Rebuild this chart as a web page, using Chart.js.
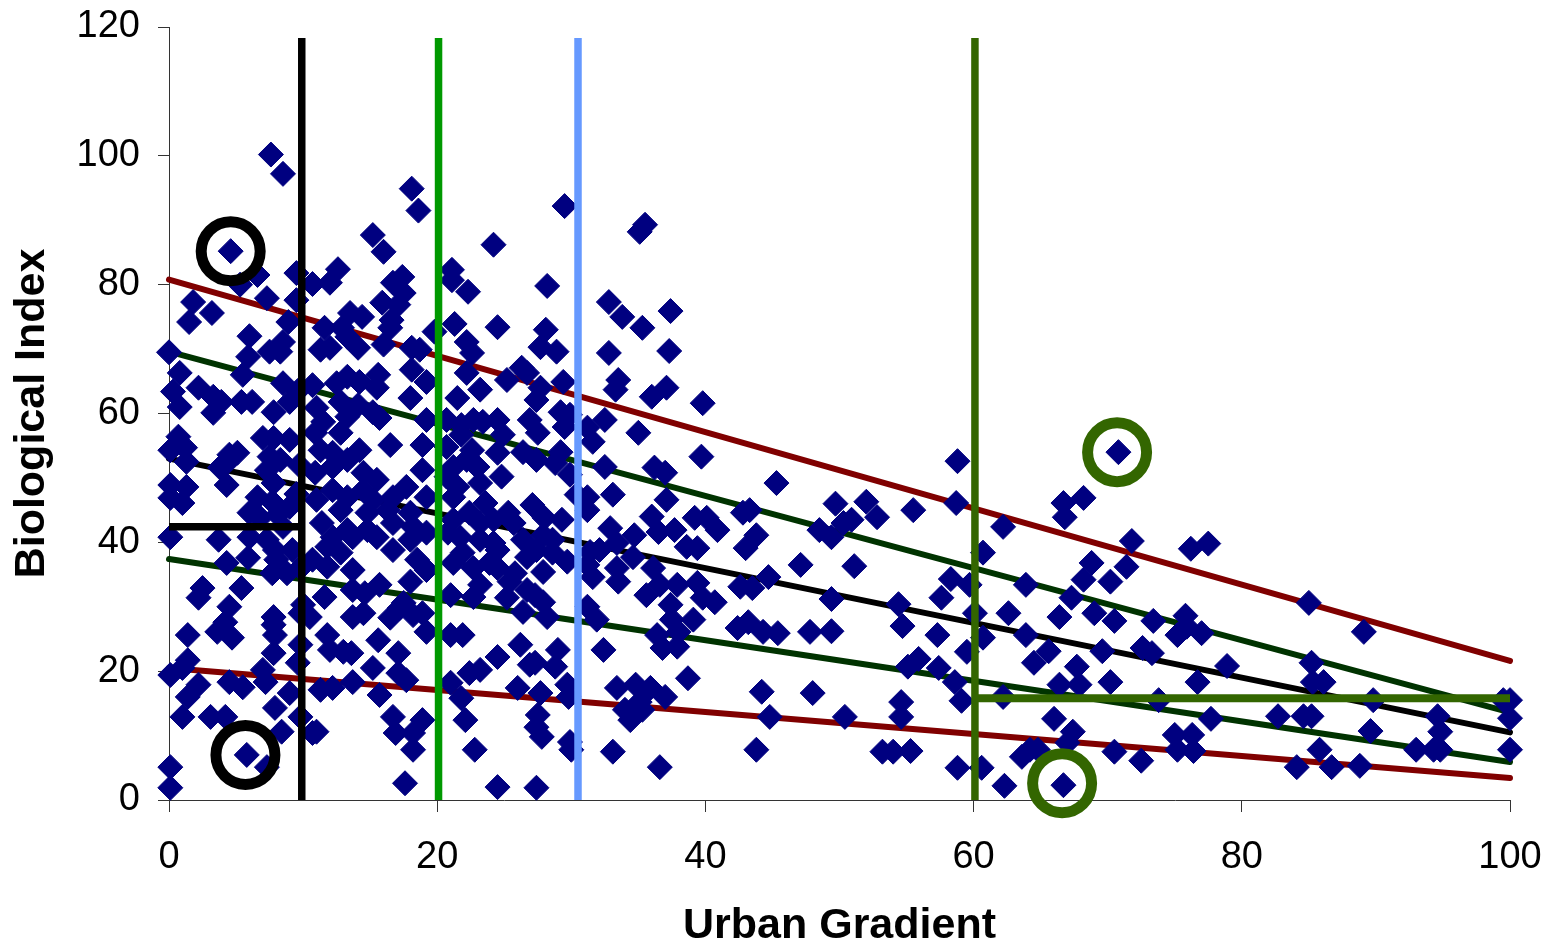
<!DOCTYPE html>
<html>
<head>
<meta charset="utf-8">
<script src="https://cdn.jsdelivr.net/npm/chart.js@4.4.0/dist/chart.umd.min.js"></script>
<style>
  html, body { margin: 0; padding: 0; background: #fff; }
  #contenedor { width: 1553px; height: 942px; position: relative; }
</style>
</head>
<body>
<div id="contenedor"><canvas id="grafica"></canvas></div>
<script>
// valores: gradiente urbano (x) e indice biologico (y)
const urbanGradient = [
  7.6, 8.5, 4.6, 6.6, 5.3, 9.5, 1.8, 3.2, 1.5, 7.3,
  9.5, 8.9, 6, 8.5, 0, 5.9, 7.5, 8.3,
  0.8, 5.5, 8.5, 0.3, 2.2, 3.3, 3.9, 5.4, 6.2, 0.8,
  3.3, 7.8, 9, 0.7, 7, 7.8, 9, 0.1, 1.2, 1.3,
  4.5, 5.1, 3.8, 4.3, 7.5, 8.3, 7.3, 4.3, 7.8, 0.1,
  1.3, 0.1, 1, 6.6, 7.7, 6, 6.8, 8.1, 9, 8.5,
  0.1, 3.7, 6, 7.3, 7.9, 4.3, 5.9, 8, 9.2, 7.7,
  8.8, 9.6, 9.7, 9.5, 9.8,
  2.5, 2.2, 5.4, 4.5, 4.2, 3.6, 4.7, 1.4, 7.8, 7.8,
  7.9, 7.8, 9.8, 9.8, 9.6, 1.4, 0.1, 1, 7, 7.2,
  4.5, 5.5, 2.2, 1.4, 9, 7.9, 1, 3.1, 4.2, 9.8,
  8.4, 5.8, 7.3, 0.1, 0.1,
  18.1, 18.6, 15.2, 16, 10.7, 12, 12.6, 11.6, 12.9, 13.5,
  14.4, 13.3, 14.1, 16, 15.9, 16.7, 17.4, 17.5, 17.1, 16.6,
  16.5, 18.1, 18.7, 19.8, 11.3, 12,
  10.7, 12.5, 13.3, 14.2, 15.6, 15.5, 18.1, 19.2, 18, 11,
  12.8, 14.1, 15.2, 13.3, 11.5, 15.7, 19.2, 10.9, 12.8, 16.5,
  18.9, 11.3, 12.2, 14.2, 10.9, 12.2, 13.3, 14.5, 15.5, 17.7,
  18.9, 11, 12.2, 13.3, 14.5, 15.2, 16.7, 19.2, 12.8, 14.8,
  16.3, 18, 11.4, 13.3, 14.8, 16.7, 18.2, 12.2, 13.7, 15.5,
  18, 19.2, 11.8, 12.8, 16.7, 18.5, 19.2, 10.7, 11.8, 13.7,
  10.5, 10.7, 11, 11.6, 10, 11.8, 12, 13, 13.6, 13.7,
  14.5, 15.6, 17.1, 15.2, 16.5, 17.2, 18.2, 19.2, 17.1, 17.7,
  11.3, 12.2, 13.7, 15.7, 16.7, 16.9, 18.2, 18.2, 18.9, 17.6,
  13.7, 15.7, 14.6, 18, 17.5, 18.9,
  21.1, 21.1, 22.3, 21.3, 22.2, 22.6, 24.5, 24.2, 22.2, 23.2,
  21.5, 20.7, 21.8, 22.7, 23.4, 21.8, 20.7, 22.6, 21.2, 22.2,
  23, 20.7, 21.5, 23.2, 21.2, 23.6, 22.4, 21.2, 23.2, 24.2,
  20.8, 21.7, 23.2, 24.2, 21.9, 21.2, 22.7, 23.9, 21, 22.7,
  23.2, 21, 21.9, 24.5, 22.4, 23.2, 21, 21.8, 22.1, 22.8,
  24.5,
  29.5, 35.5, 35.1, 28.2, 32.8, 33.8, 37.4, 35.3, 28.1, 27.7,
  28.9, 32.8, 37.3, 25.2, 26.3, 26.7, 27.7, 29.4, 33.5, 33.3,
  36, 37.1, 39.8, 27.4, 24.5, 26.9, 29.2, 29.9, 31.2, 32.5,
  27.5, 29.5, 35, 24.9, 31.6, 26.4, 27.4, 28.8, 29.2, 24.5,
  24.8, 29.9, 32.5, 36.2, 37, 39.7, 45.3, 27.1, 30.4, 31.2,
  33.1, 37.1, 31.2, 25.3, 25.7, 28, 29.3, 36, 39.2, 40.1,
  40.9, 42.8, 43.3, 48.5, 32.9, 34.7, 36.5, 37.7, 43.8, 24.5,
  26.4, 27.9, 28.6, 27.4, 28.6, 26.7, 29.7, 31.4, 32.1, 33.4,
  34.6, 38.6, 39.4, 43, 47.1, 24.5, 25.8, 27.9, 31.2, 31.6,
  33.4, 36.1, 44.7,
  25.4, 26.7, 25.2, 26.4, 28.2, 27.9, 27.3, 31.2, 31.9, 33.5,
  35.6, 36.6, 37.9, 39.4, 39.8, 40.7, 37.4, 37.5, 39.1, 42.6,
  43.5, 42.4, 43.2, 44.3, 45.4, 47.8, 36.4, 36.8, 37.9, 38,
  26.2, 26.9, 27.3, 28.8, 29, 32.4, 26, 27.7, 29.7, 29.8,
  33.4, 34.8, 35.9, 37, 38.7, 35.1, 34, 35.3, 34.4, 44.2,
  48, 44.8, 27.5, 27.4, 27.8, 29.9, 30, 33.1, 36.6, 43.8,
  27.4,
  58.8, 70.8, 49.7, 52, 52.8, 50.3, 50.9, 55.5, 58.7, 66.7,
  68.2, 66.8, 62.2, 49.4, 60.7, 71.8, 68.8, 71.4, 68.2, 70.2,
  51.1, 58.3, 59.7, 63.9, 67.3, 49.4, 57.6, 54.4, 60.1, 62.6,
  66.4, 69, 70.5, 73.4, 54.7, 49.4, 57.3, 60.7, 63.9, 59.5,
  65.6, 69.6, 72.6, 73.3, 55.9, 55.1, 57.4, 64.5, 67.7, 58.6,
  66.4, 67.9, 70.2, 59.1, 62.2, 73.8, 54.6, 54.6, 50.4, 66,
  67.4, 67, 64.8, 64.2, 63.6, 70.5, 72.5, 53.2, 54, 55.3,
  58.8, 60.6, 62.3, 66.7,
  76.2, 77.5, 85, 89.1, 75.8, 75.2, 75.9, 77, 85.2, 78.9,
  76.7, 85.3, 86.1, 89.8, 99.5, 100, 100, 94.6, 94.8, 89.6,
  82.7, 84.6, 85.2, 77.7, 75, 76.3, 75.2, 76.4, 85.8, 84.1,
  86.7, 88.8, 93, 94.3, 94.8, 100
];
const biologicalIndex = [
  100.2, 97.2, 85.2, 81.5, 80, 81.8, 77.3, 75.6, 74.2, 77.9,
  77.6, 74.2, 72, 71.1, 69.5, 68.8, 69.6, 69.6,
  66.3, 66, 64.7, 63.4, 64, 62.6, 61.8, 61.8, 61.8, 61,
  60.1, 60.2, 61.8, 56.4, 56.2, 56.2, 55.9, 54.3, 54.7, 52.5,
  53.6, 53.9, 51.6, 52.3, 53.3, 52.8, 51.2, 48.9, 49.2, 48.9,
  48.6, 46.9, 46.1, 47, 46.3, 44.6, 43.8, 44.3, 45.5, 42.4,
  40.8, 40.4, 40.8, 40.4, 38.8, 36.8, 37.6, 37.3, 38.8, 35.2,
  35.2, 63.5, 52, 47.5, 36,
  32.9, 31.4, 32.9, 30, 27.6, 26.1, 25.2, 25.6, 28.4, 27.2,
  25.6, 22.8, 29, 24.1, 21.3, 21.7, 19.4, 20.5, 20.2, 18.3,
  18.3, 17.5, 17.9, 16, 16.6, 14.3, 12.9, 12.9, 12.9, 12.9,
  10.6, 7, 5.1, 5.1, 1.9,
  94.9, 91.5, 87.7, 85.1, 80.1, 80.3, 82.4, 73.3, 73.3, 75.6,
  75, 71.9, 70.2, 70.7, 77.2, 80.3, 81.2, 78.7, 76.9, 74.5,
  73.3, 70.2, 69.9, 72.7, 69.9, 70.2,
  64.4, 64.7, 65.7, 64.9, 66, 64, 66.8, 64.9, 62.4, 60.9,
  61.8, 61.3, 60.2, 59.5, 58.7, 59.3, 59, 57, 57, 55.1,
  55.1, 54.3, 53.9, 54.3, 50.8, 51.7, 52.8, 50.8, 49.7, 48.6,
  51.2, 46.6, 48.1, 47, 48.1, 46.6, 47, 47, 45, 44.6,
  45, 44.6, 43, 41.9, 41.9, 43, 42.4, 40.8, 40.8, 40.8,
  40.4, 41.5, 39.3, 38.4, 38.8, 37.3, 35.7, 37.3, 36.2, 35.7,
  28.4, 10.4, 10.6, 31.5, 30.3, 25.6, 23.3, 23, 22.8, 28.4,
  29, 24.8, 22.8, 20.5, 28.3, 29.8, 28.7, 26.1, 19.7, 18.6,
  17.1, 17.4, 18.3, 16.3, 12.9, 10.4, 10.4, 7.8, 12.4, 2.6,
  32.6, 33.4, 32.1, 33.9, 30.6, 29,
  82.3, 80.7, 78.9, 73.9, 71.1, 69.4, 73.4, 86.2, 66.3, 63.7,
  62.4, 59, 58.2, 59, 58.7, 56.7, 54.8, 54.3, 51.7, 52.8,
  51.7, 50.2, 48.6, 49.2, 47, 46.1, 44.6, 43.5, 43, 43.5,
  41.5, 40.8, 40.4, 39.9, 38.4, 36.8, 36, 36.8, 31.8, 31.5,
  33.4, 25.6, 25.6, 22.2, 19.7, 20.2, 18.2, 15.8, 12.4, 7.8,
  2,
  92.2, 89.3, 88.2, 79.8, 77.3, 75, 75.9, 73.3, 73, 70.3,
  69.6, 69.4, 69.7, 65.2, 67.1, 66.3, 64, 64.9, 65.2, 63.7,
  62.6, 64, 61.6, 62.1, 59, 59, 60.2, 59.8, 57.8, 59,
  57, 57.9, 57, 56.7, 55.6, 54, 52.8, 52.3, 54, 53.9,
  50.2, 50.5, 51.7, 51.6, 50.8, 53.3, 49.2, 45.8, 47.4, 47,
  47.4, 46.6, 45, 44.6, 43, 43.8, 43.5, 44, 43.8, 43.8,
  41.9, 44.6, 45, 41.9, 42.2, 41.1, 41.6, 41.9, 41.1, 38.8,
  40.4, 41.1, 40.4, 38.8, 38.4, 37.7, 37, 38.5, 38.8, 39.9,
  37.7, 39.3, 39.1, 39.1, 36.5, 36, 35.2, 35.4, 36.5, 34.6,
  36, 36, 34.6,
  33.9, 32.6, 31.4, 29.2, 28.4, 30.7, 31.8, 30, 28, 33.9,
  31.8, 33.4, 33.4, 33.7, 31.4, 30.7, 30.3, 28, 28, 33.1,
  32.9, 26.7, 27.6, 26.1, 25.9, 26.1, 25.6, 23.6, 23.8, 26.1,
  24.1, 21, 21.3, 20.7, 23.3, 23.3, 17.4, 16.6, 17.9, 16,
  17.4, 17.9, 17.4, 16, 18.9, 15.2, 14, 14, 12.4, 16.8,
  16.6, 12.9, 13.2, 11.3, 9.8, 9, 7.8, 7.5, 5.1, 7.8,
  1.9,
  52.6, 54, 46, 46.3, 43.9, 43, 43.5, 45, 46.1, 46.1,
  46.9, 43.9, 42.4, 40.8, 38.4, 40.2, 36.8, 36.2, 34.2, 33.9,
  36.3, 34.3, 33.4, 33.4, 31.4, 31.2, 31.4, 30.4, 29, 29,
  28.4, 29, 27.8, 27.8, 27, 26.2, 25.6, 25.2, 25.6, 23,
  23.1, 23.1, 23.6, 22.8, 21.9, 20.7, 20.5, 21.3, 20.7, 18.3,
  17.9, 17.9, 18.3, 15.4, 16, 15.5, 15.2, 12.9, 12.9, 12.6,
  10.6, 8.9, 7.8, 7.8, 6.7, 7.5, 6.1, 7.5, 7.5, 7.6,
  5, 5, 2.2, 2.3,
  39, 39.8, 30.6, 26.1, 28.6, 25.6, 26.9, 25.9, 21.3, 20.8,
  18.3, 18.3, 18.3, 15.5, 15.5, 15.5, 12.7, 13, 10.6, 10.7,
  13, 13, 13, 12.6, 10.1, 10.1, 7.8, 7.6, 7.8, 5.1,
  5.1, 5.3, 7.8, 7.8, 7.8, 7.8
];

// rectas de tendencia: valor en x = 0 y en x = 100
const trendStart = [80.8, 69.6, 53.0, 37.4, 20.5];
const trendEnd = [21.6, 13.6, 10.5, 5.9, 3.4];

// cortes verticales del gradiente urbano
const cortes = [9.9, 20.1, 30.5, 60.1];
const corteTope = 118.3;
// niveles horizontales (antes del primer corte y despues del ultimo)
const nivelBajo = 42.4;
const nivelAlto = 15.8;

// puntos marcados con circulo
const marcadosX = [4.6, 5.7, 70.7, 66.6];
const marcadosY = [85.2, 7.0, 54.0, 2.6];

const xTicks = [0, 20, 40, 60, 80, 100];
const yTicks = [0, 20, 40, 60, 80, 100, 120];

const coloresTendencia = ['#800000', '#003300', '#000000', '#003300', '#800000'];
const coloresCortes = ['#000000', '#009900', '#6699ff', '#336600'];
const coloresMarcados = ['#000000', '#000000', '#336600', '#336600'];

const datasets = [];

// cortes verticales (por encima de los puntos)
cortes.forEach((c, i) => {
    datasets.push({
        data: [{ x: c, y: 0 }, { x: c, y: corteTope }],
        showLine: true,
        borderColor: coloresCortes[i],
        borderWidth: 7.5,
        borderCapStyle: 'butt',
        pointRadius: 0,
        clip: false,
        order: 1
    });
});

datasets.push({
    data: [{ x: 0, y: nivelBajo }, { x: cortes[0], y: nivelBajo }],
    showLine: true,
    borderColor: '#000000',
    borderWidth: 7.5,
    borderCapStyle: 'butt',
    pointRadius: 0,
    clip: false,
    order: 1
});

datasets.push({
    data: [{ x: cortes[3], y: nivelAlto }, { x: 100, y: nivelAlto }],
    showLine: true,
    borderColor: '#336600',
    borderWidth: 8,
    borderCapStyle: 'butt',
    pointRadius: 0,
    clip: false,
    order: 1
});

// circulos
marcadosX.forEach((x, i) => {
    datasets.push({
        data: [{ x: x, y: marcadosY[i] }],
        pointStyle: 'circle',
        pointRadius: 29.5,
        pointBorderWidth: 11,
        pointBorderColor: coloresMarcados[i],
        pointBackgroundColor: 'rgba(0,0,0,0)',
        clip: false,
        order: 0
    });
});

// puntos
datasets.push({
    data: urbanGradient.map((x, i) => ({ x: x, y: biologicalIndex[i] })),
    pointStyle: 'rectRot',
    pointRadius: 12.5,
    pointBorderWidth: 1,
    pointBackgroundColor: '#000080',
    pointBorderColor: '#000080',
    clip: false,
    order: 2
});

// rectas de tendencia (debajo de los puntos)
trendStart.forEach((v, i) => {
    datasets.push({
        data: [{ x: 0, y: v }, { x: 100, y: trendEnd[i] }],
        showLine: true,
        borderColor: coloresTendencia[i],
        borderWidth: 6,
        borderCapStyle: 'round',
        pointRadius: 0,
        clip: false,
        order: 3
    });
});

const ctx = document.getElementById('grafica');

const grafica = new Chart(ctx, {
    type: 'scatter',
    data: { datasets: datasets },
    options: {
        responsive: true,
        maintainAspectRatio: false,
        animation: false,
        events: [],
        layout: { autoPadding: false, padding: { left: 0, top: 27, right: 43, bottom: 0 } },
        plugins: {
            legend: { display: false },
            tooltip: { enabled: false }
        },
        scales: {
            x: {
                type: 'linear',
                min: 0,
                max: 100,
                afterBuildTicks: s => { s.ticks = xTicks.map(v => ({ value: v })); },
                afterFit: s => { s.height = 142; s.paddingLeft = 0; s.paddingRight = 0; },
                grid: { drawOnChartArea: false, drawTicks: true, tickLength: 12, color: '#333', lineWidth: 1 },
                border: { display: true, color: '#333', width: 1 },
                ticks: {
                    padding: 23,
                    color: '#000',
                    maxRotation: 0,
                    font: { family: 'Liberation Sans, Arial, sans-serif', size: 38 }
                },
                title: {
                    display: true,
                    text: 'Urban Gradient',
                    color: '#000',
                    padding: { top: 0, bottom: 0 },
                    font: { family: 'Liberation Sans, Arial, sans-serif', size: 43, weight: 'bold', lineHeight: 0.75 }
                }
            },
            y: {
                type: 'linear',
                min: 0,
                max: 120,
                afterBuildTicks: s => { s.ticks = yTicks.map(v => ({ value: v })); },
                afterFit: s => { s.width = 169; s.paddingTop = 0; s.paddingBottom = 0; },
                grid: { drawOnChartArea: false, drawTicks: true, tickLength: 11, color: '#333', lineWidth: 1 },
                border: { display: true, color: '#333', width: 1 },
                ticks: {
                    padding: 18,
                    color: '#000',
                    font: { family: 'Liberation Sans, Arial, sans-serif', size: 38 }
                },
                title: {
                    display: true,
                    text: 'Biological Index',
                    color: '#000',
                    padding: { top: 11, bottom: 0 },
                    font: { family: 'Liberation Sans, Arial, sans-serif', size: 43, weight: 'bold', lineHeight: 1 }
                }
            }
        }
    }
});
</script>
</body>
</html>
